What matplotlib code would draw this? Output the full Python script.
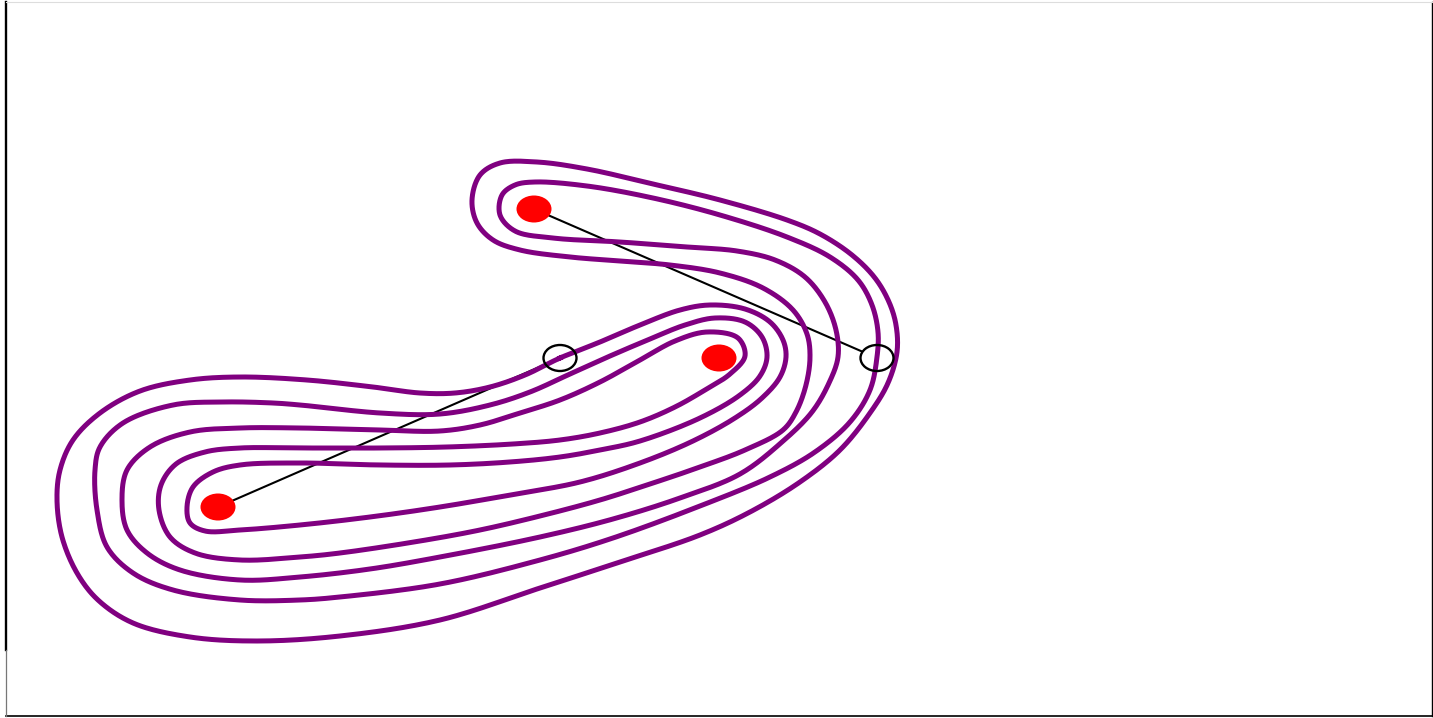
import numpy as np
import matplotlib
matplotlib.use("Agg")
import matplotlib.pyplot as plt
from matplotlib.patches import Ellipse

# One closed curve winding around three interior points (x right, y down).
curve_pts = [
    (5.60, 3.58), (5.25, 3.75), (4.90, 3.87), (4.55, 3.93), (4.20, 3.93), (3.73, 3.87), (3.07, 3.80),
    (2.40, 3.77), (1.90, 3.80), (1.40, 3.91), (1.00, 4.13), (0.73, 4.40), (0.60, 4.70), (0.57, 5.00),
    (0.62, 5.37), (0.77, 5.73), (0.98, 6.00), (1.33, 6.23), (1.90, 6.37), (2.57, 6.41), (3.40, 6.36),
    (4.40, 6.20), (5.40, 5.88), (6.20, 5.62), (7.00, 5.35), (7.50, 5.12), (8.00, 4.82), (8.40, 4.50),
    (8.70, 4.13), (8.88, 3.83), (8.97, 3.52), (8.96, 3.25), (8.89, 3.02), (8.75, 2.78), (8.52, 2.55),
    (8.20, 2.34), (7.87, 2.20), (7.20, 2.00), (6.53, 1.84), (5.87, 1.69), (5.37, 1.62), (5.00, 1.63),
    (4.80, 1.75), (4.72, 2.00), (4.77, 2.23), (4.93, 2.40), (5.20, 2.50), (5.70, 2.57), (6.20, 2.61),
    (6.70, 2.65), (7.20, 2.73), (7.63, 2.88), (7.93, 3.10), (8.07, 3.34), (8.10, 3.57), (8.06, 3.85),
    (7.96, 4.12), (7.83, 4.30), (7.45, 4.50), (7.00, 4.67), (6.50, 4.84), (6.00, 5.00), (5.40, 5.16),
    (4.80, 5.30), (4.20, 5.41), (3.40, 5.53), (3.00, 5.57), (2.40, 5.60), (1.95, 5.53), (1.70, 5.37),
    (1.59, 5.10), (1.61, 4.85), (1.76, 4.64), (2.05, 4.52), (2.40, 4.48), (3.00, 4.48), (3.80, 4.48),
    (4.47, 4.47), (5.13, 4.44), (5.60, 4.40), (6.00, 4.33), (6.40, 4.22), (6.75, 4.07), (7.05, 3.90),
    (7.30, 3.74), (7.45, 3.56), (7.38, 3.38), (7.07, 3.32), (6.75, 3.41), (6.40, 3.60), (6.00, 3.82),
    (5.60, 4.00), (5.20, 4.13), (4.80, 4.25), (4.40, 4.31), (3.80, 4.30), (3.00, 4.28), (2.40, 4.28),
    (1.90, 4.32), (1.50, 4.47), (1.27, 4.70), (1.22, 5.00), (1.27, 5.30), (1.47, 5.53), (1.80, 5.70),
    (2.40, 5.80), (3.00, 5.77), (3.70, 5.69), (4.40, 5.57), (5.40, 5.37), (6.13, 5.19), (6.80, 4.98),
    (7.40, 4.74), (7.82, 4.42), (8.12, 4.12), (8.29, 3.83), (8.38, 3.57), (8.36, 3.30), (8.25, 3.02),
    (8.05, 2.77), (7.75, 2.60), (7.37, 2.51), (6.87, 2.47), (6.20, 2.42), (5.53, 2.38), (5.15, 2.31),
    (5.00, 2.15), (5.02, 1.95), (5.15, 1.85), (5.35, 1.82), (5.87, 1.86), (6.53, 1.98), (7.20, 2.15),
    (7.87, 2.37), (8.30, 2.57), (8.58, 2.80), (8.72, 3.05), (8.78, 3.32), (8.77, 3.57), (8.70, 3.90),
    (8.50, 4.22), (8.15, 4.52), (7.70, 4.77), (7.00, 5.06), (6.13, 5.38), (5.40, 5.60), (4.40, 5.84),
    (3.40, 5.97), (3.00, 6.00), (2.40, 6.00), (1.73, 5.90), (1.33, 5.73), (1.07, 5.47), (0.97, 5.10),
    (0.95, 4.70), (1.00, 4.47), (1.23, 4.23), (1.73, 4.05), (2.23, 4.02), (2.73, 4.03), (3.00, 4.05),
    (3.80, 4.13), (4.40, 4.14), (4.90, 4.05), (5.30, 3.92), (5.70, 3.74), (6.10, 3.56), (6.50, 3.39),
    (6.85, 3.25), (7.15, 3.18), (7.45, 3.22), (7.62, 3.37), (7.67, 3.57), (7.60, 3.76), (7.40, 3.95),
    (7.00, 4.18), (6.40, 4.41), (6.00, 4.50), (5.60, 4.57), (5.10, 4.62), (4.50, 4.65), (3.80, 4.65),
    (3.00, 4.63), (2.40, 4.65), (2.13, 4.72), (1.93, 4.87), (1.87, 5.07), (1.90, 5.23), (2.05, 5.31),
    (2.40, 5.30), (3.00, 5.25), (3.70, 5.17), (4.40, 5.07), (5.10, 4.95), (5.80, 4.82), (6.40, 4.63),
    (6.93, 4.41), (7.35, 4.18), (7.62, 3.98), (7.80, 3.77), (7.86, 3.57), (7.83, 3.40), (7.70, 3.22),
    (7.45, 3.09), (7.10, 3.05), (6.80, 3.10), (6.40, 3.25), (6.00, 3.42),
]
curve_x = [p[0] for p in curve_pts]
curve_y = [p[1] for p in curve_pts]

# Interior points and the points they are joined to
dot_x = [2.18, 5.34, 7.19]
dot_y = [5.07, 2.09, 3.58]
ring_x = [5.60, 8.77]
ring_y = [3.58, 3.58]
link_from = [0, 1]   # index into dots for each ring


def closed_catmull_rom(x, y, samples=24, alpha=0.5):
    p = np.column_stack([x, y])
    n = len(p)
    out = []
    for i in range(n):
        p0, p1, p2, p3 = p[(i - 1) % n], p[i], p[(i + 1) % n], p[(i + 2) % n]
        t0 = 0.0
        t1 = t0 + np.linalg.norm(p1 - p0) ** alpha
        t2 = t1 + np.linalg.norm(p2 - p1) ** alpha
        t3 = t2 + np.linalg.norm(p3 - p2) ** alpha
        t = np.linspace(t1, t2, samples, endpoint=False)[:, None]
        a1 = (t1 - t) / (t1 - t0) * p0 + (t - t0) / (t1 - t0) * p1
        a2 = (t2 - t) / (t2 - t1) * p1 + (t - t1) / (t2 - t1) * p2
        a3 = (t3 - t) / (t3 - t2) * p2 + (t - t2) / (t3 - t2) * p3
        b1 = (t2 - t) / (t2 - t0) * a1 + (t - t0) / (t2 - t0) * a2
        b2 = (t3 - t) / (t3 - t1) * a2 + (t - t1) / (t3 - t1) * a3
        c = (t2 - t) / (t2 - t1) * b1 + (t - t1) / (t2 - t1) * b2
        out.append(c)
    out = np.vstack(out)
    out = np.vstack([out, out[:1]])
    return out[:, 0], out[:, 1]


W, H = 1433, 718
fig = plt.figure(figsize=(W / 100, H / 100), dpi=100)
ax = fig.add_axes([6.2 / W, 2.0 / H, (1432 - 6.2) / W, (716 - 2.3) / H])
ax.set_xlim(0.062, 14.32)
ax.set_ylim(7.16, 0.023)
ax.set_xticks([])
ax.set_yticks([])

ring_w, ring_h = 0.33, 0.26
dot_w, dot_h = 0.35, 0.27

# segments from each dot to the rim of its ring
for k, i in enumerate(link_from):
    x0, y0 = dot_x[i], dot_y[i]
    x1, y1 = ring_x[k], ring_y[k]
    dx, dy = x1 - x0, y1 - y0
    s = 1.0 / np.sqrt((dx / (ring_w / 2)) ** 2 + (dy / (ring_h / 2)) ** 2)
    ax.plot([x0, x1 - dx * s], [y0, y1 - dy * s], color="black", lw=1.5,
            solid_capstyle="butt", zorder=2)

cx, cy = closed_catmull_rom(curve_x, curve_y)
ax.plot(cx, cy, color="purple", lw=3.6, solid_joinstyle="round", zorder=3)

for x, y in zip(ring_x, ring_y):
    ax.add_patch(Ellipse((x, y), ring_w, ring_h, facecolor="none",
                         edgecolor="black", lw=1.7, zorder=4))
for x, y in zip(dot_x, dot_y):
    ax.add_patch(Ellipse((x, y), dot_w, dot_h, facecolor="red",
                         edgecolor="none", zorder=5))

# frame
for side in ("left", "bottom", "right"):
    ax.spines[side].set_color("black")
ax.spines["left"].set_linewidth(1.7)
ax.spines["left"].set_bounds(0.023, 6.50)
ax.plot([0.062, 0.062], [6.50, 7.16], color="#777777", lw=0.9, clip_on=False, zorder=6)
ax.spines["bottom"].set_linewidth(1.2)
ax.spines["right"].set_linewidth(1.0)
ax.spines["top"].set_color("#dddddd")
ax.spines["top"].set_linewidth(0.8)

fig.savefig("out.png", dpi=100)
